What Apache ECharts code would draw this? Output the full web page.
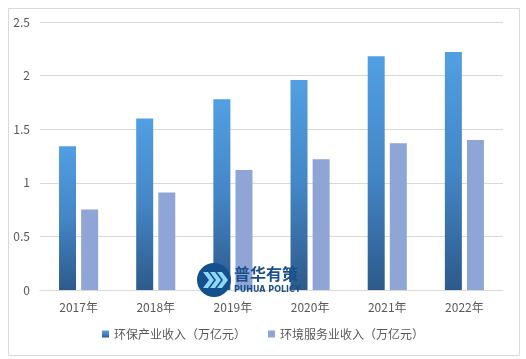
<!DOCTYPE html>
<html><head><meta charset="utf-8">
<script src="https://cdn.jsdelivr.net/npm/echarts@6/dist/echarts.min.js"></script>
<style>html,body{margin:0;padding:0;background:#fff}#c{width:526px;height:359px}</style>
</head><body><div id="c"></div>
<script>
const categories = ['2017年','2018年','2019年','2020年','2021年','2022年'];
const seriesNames = ['环保产业收入（万亿元）','环境服务业收入（万亿元）'];
const industryRevenue = [1.34, 1.60, 1.78, 1.96, 2.18, 2.22];
const serviceRevenue = [0.75, 0.91, 1.12, 1.22, 1.37, 1.40];
const yTicks = [0, 0.5, 1, 1.5, 2, 2.5];

const chart = echarts.init(document.getElementById('c'));
const font = '"Microsoft YaHei","Noto Sans CJK SC",sans-serif';
function chevron(x) {
  return {type: 'polygon', z: 101, shape: {points: [[x,9],[x+5,9],[x+11,17],[x+5,25],[x,25],[x+6,17]]},
          style: {fill: '#8ED8F8'}};
}
chart.setOption({
  animation: false,
  textStyle: {fontFamily: font},
  grid: {left: 40, right: 23, top: 22, bottom: 69, containLabel: false},
  xAxis: {
    type: 'category', data: categories,
    axisLine: {lineStyle: {color: '#d9d9d9', width: 1}},
    axisTick: {show: false},
    axisLabel: {color: '#595959', fontSize: 12, margin: 11, fontFamily: font}
  },
  yAxis: {
    type: 'value', min: 0, max: 2.5, interval: 0.5,
    axisLine: {show: false}, axisTick: {show: false},
    splitLine: {lineStyle: {color: '#d9d9d9', width: 1}},
    axisLabel: {color: '#595959', fontSize: 12, margin: 10,
      formatter: v => yTicks.includes(v) ? String(v) : ''}
  },
  legend: {
    bottom: 14, left: 'center', itemWidth: 7, itemHeight: 7, itemGap: 22,
    icon: 'rect',
    textStyle: {color: '#595959', fontSize: 12, fontFamily: font},
    data: seriesNames
  },
  series: [
    {name: seriesNames[0], type: 'bar', data: industryRevenue, barWidth: 17, barGap: '30%',
     itemStyle: {color: new echarts.graphic.LinearGradient(0,0,0,1,[
       {offset:0,color:'#519FE2'},{offset:0.5,color:'#4486C6'},{offset:1,color:'#2D5A8B'}])}},
    {name: seriesNames[1], type: 'bar', data: serviceRevenue, barWidth: 17,
     itemStyle: {color: '#8FA5D6'}}
  ],
  graphic: [
    {type: 'rect', left: 6, top: 6, z: -10, shape: {width: 511, height: 347},
     style: {fill: 'none', stroke: '#d9d9d9', lineWidth: 1}, silent: true},
    {type: 'group', left: 197, top: 263, zlevel: 1, z: 100, silent: true, children: [
      {type: 'circle', z: 100, zlevel: 1, shape: {cx: 17, cy: 17, r: 17}, style: {fill: '#14508E'}},
      Object.assign(chevron(6), {zlevel: 1}), Object.assign(chevron(13), {zlevel: 1}), Object.assign(chevron(20), {zlevel: 1}),
      {type: 'text', zlevel: 1, z: 101, x: 37, y: 3, style: {text: '普华有策', fill: '#1B4F8A', font: 'bold 16px "Noto Sans CJK SC",sans-serif', textVerticalAlign: 'top'}},
      {type: 'text', zlevel: 1, z: 101, x: 37, y: 23, style: {text: 'PUHUA POLICY', fill: '#1B4F8A', font: 'bold 8px "DejaVu Sans",sans-serif', textVerticalAlign: 'top'}}
    ]}
  ]
});
</script></body></html>
